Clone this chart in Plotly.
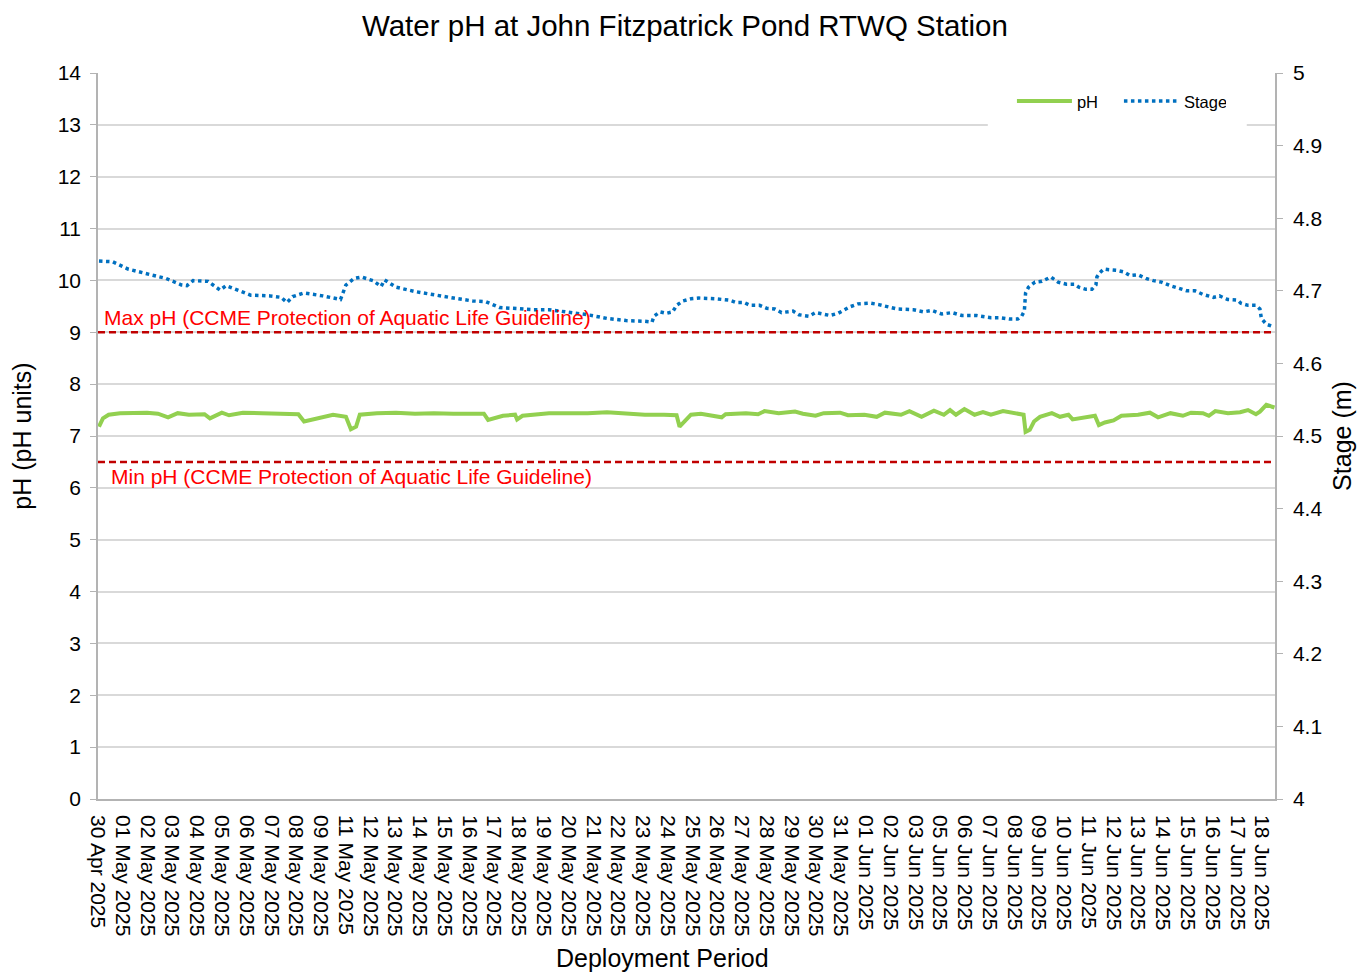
import plotly.graph_objects as go

# x positions are in "tick slot" units: slot 0 = first date label, slot 47 = last label
date_labels = [
    "30 Apr 2025", "01 May 2025", "02 May 2025", "03 May 2025", "04 May 2025",
    "05 May 2025", "06 May 2025", "07 May 2025", "08 May 2025", "09 May 2025",
    "11 May 2025", "12 May 2025", "13 May 2025", "14 May 2025", "15 May 2025",
    "16 May 2025", "17 May 2025", "18 May 2025", "19 May 2025", "20 May 2025",
    "21 May 2025", "22 May 2025", "23 May 2025", "24 May 2025", "25 May 2025",
    "26 May 2025", "27 May 2025", "28 May 2025", "29 May 2025", "30 May 2025",
    "31 May 2025", "01 Jun 2025", "02 Jun 2025", "03 Jun 2025", "05 Jun 2025",
    "06 Jun 2025", "07 Jun 2025", "08 Jun 2025", "09 Jun 2025", "10 Jun 2025",
    "11 Jun 2025", "12 Jun 2025", "13 Jun 2025", "14 Jun 2025", "15 Jun 2025",
    "16 Jun 2025", "17 Jun 2025", "18 Jun 2025",
]

ph_t = [
    0.04, 0.20, 0.43, 0.89, 1.98, 2.42, 2.83, 3.22, 3.67, 4.30, 4.52, 5.00, 5.29,
    5.85, 6.62, 7.39, 8.09, 8.32, 8.94, 9.49, 10.01, 10.21, 10.42, 10.57, 11.26,
    12.03, 12.80, 13.56, 14.35, 15.13, 15.58, 15.75, 16.35, 16.84, 16.92, 17.14,
    18.21, 18.99, 19.77, 20.55, 21.32, 22.08, 22.85, 23.36, 23.48, 23.70, 23.94,
    24.34, 24.76, 25.18, 25.34, 26.16, 26.65, 26.91, 27.48, 28.14, 28.46, 28.97,
    29.30, 29.96, 30.28, 30.94, 31.44, 31.77, 32.42, 32.76, 33.25, 33.75, 34.15,
    34.40, 34.64, 34.98, 35.39, 35.73, 36.05, 36.54, 37.37, 37.45, 37.62, 37.79,
    38.03, 38.51, 38.84, 39.18, 39.35, 39.85, 40.25, 40.41, 40.65, 41.00, 41.32,
    41.99, 42.47, 42.80, 43.30, 43.80, 44.13, 44.61, 44.85, 45.11, 45.62, 46.11,
    46.43, 46.75, 46.91, 47.17, 47.50,
]
ph_values = [
    7.18, 7.34, 7.41, 7.44, 7.45, 7.43, 7.36, 7.44, 7.41, 7.42, 7.34, 7.45, 7.40,
    7.45, 7.44, 7.43, 7.42, 7.28, 7.35, 7.41, 7.37, 7.13, 7.18, 7.41, 7.44,
    7.45, 7.43, 7.44, 7.43, 7.42, 7.43, 7.31, 7.39, 7.41, 7.32, 7.39,
    7.44, 7.44, 7.44, 7.46, 7.44, 7.41, 7.41, 7.40, 7.18, 7.28, 7.41,
    7.43, 7.39, 7.36, 7.42, 7.44, 7.42, 7.48, 7.44, 7.47, 7.43, 7.39,
    7.44, 7.45, 7.40, 7.41, 7.37, 7.45, 7.41, 7.48, 7.37, 7.49, 7.41,
    7.50, 7.41, 7.52, 7.41, 7.46, 7.41, 7.48, 7.41, 7.08, 7.12, 7.28,
    7.37, 7.44, 7.37, 7.41, 7.32, 7.36, 7.39, 7.21, 7.26, 7.30, 7.39,
    7.41, 7.45, 7.36, 7.44, 7.39, 7.45, 7.44, 7.39, 7.48, 7.44, 7.46,
    7.50, 7.42, 7.47, 7.60, 7.55,
]

stage_t = [
    0.04, 0.59, 1.21, 1.82, 2.14, 2.75, 3.37, 3.59, 3.84, 4.44, 4.93, 5.17, 5.69,
    6.16, 6.94, 7.39, 7.63, 7.86, 8.32, 9.08, 9.79, 10.01, 10.34, 10.64, 11.10,
    11.43, 11.57, 12.03, 12.80, 13.56, 14.35, 15.13, 15.66, 16.21, 16.98, 17.60,
    18.21, 18.99, 19.77, 20.55, 21.32, 22.08, 22.37, 22.45, 22.69, 22.95, 23.20,
    23.36, 23.62, 23.94, 24.26, 24.93, 25.51, 25.76, 26.08, 26.32, 26.71, 26.99,
    27.32, 27.60, 28.06, 28.30, 28.70, 28.97, 29.55, 29.88, 30.12, 30.36, 30.68,
    31.19, 31.52, 31.77, 32.26, 32.92, 33.33, 33.67, 34.07, 34.48, 34.88, 35.47,
    36.05, 36.37, 36.78, 37.13, 37.29, 37.40, 37.42, 37.45, 37.57, 37.83, 38.11,
    38.47, 38.76, 39.10, 39.43, 39.60, 39.89, 40.13, 40.29, 40.33, 40.45, 40.61,
    40.82, 41.16, 41.41, 41.66, 41.99, 42.31, 42.61, 42.94, 43.30, 43.63, 43.96,
    44.29, 44.61, 45.03, 45.28, 45.61, 46.02, 46.14, 46.43, 46.75, 46.91, 46.97,
    47.17, 47.41,
]
stage_m = [
    4.741, 4.740, 4.730, 4.724, 4.722, 4.717, 4.708, 4.707, 4.714, 4.713, 4.701, 4.707, 4.700,
    4.694, 4.693, 4.691, 4.684, 4.692, 4.697, 4.693, 4.688, 4.708, 4.717, 4.719, 4.714,
    4.706, 4.715, 4.705, 4.699, 4.694, 4.690, 4.686, 4.685, 4.677, 4.675, 4.674,
    4.674, 4.671, 4.667, 4.662, 4.659, 4.658, 4.657, 4.665, 4.671, 4.669, 4.671,
    4.680, 4.686, 4.689, 4.690, 4.689, 4.687, 4.684, 4.684, 4.680, 4.680, 4.676,
    4.675, 4.670, 4.672, 4.667, 4.665, 4.670, 4.666, 4.669, 4.674, 4.678, 4.682,
    4.683, 4.681, 4.679, 4.675, 4.674, 4.671, 4.673, 4.668, 4.670, 4.666, 4.666,
    4.663, 4.663, 4.661, 4.661, 4.665, 4.672, 4.684, 4.697, 4.705, 4.712, 4.713,
    4.719, 4.712, 4.709, 4.709, 4.705, 4.702, 4.702, 4.708, 4.719, 4.725, 4.730,
    4.729, 4.728, 4.726, 4.721, 4.722, 4.717, 4.714, 4.712, 4.707, 4.703, 4.700,
    4.700, 4.695, 4.691, 4.693, 4.688, 4.687, 4.683, 4.680, 4.680, 4.675, 4.662,
    4.654, 4.651,
]

max_ph = 9.0
min_ph = 6.5
max_label = "Max pH (CCME Protection of Aquatic Life Guideline)"
min_label = "Min pH (CCME Protection of Aquatic Life Guideline)"

FONT = "Arial, Liberation Sans, sans-serif"
GRID = "#D9D9D9"
AXIS = "#B3B3B3"

fig = go.Figure()
fig.add_trace(go.Scatter(
    x=ph_t, y=ph_values, name="pH", mode="lines",
    line=dict(color="#92D050", width=4),
))
fig.add_trace(go.Scatter(
    x=stage_t, y=stage_m, name="Stage", mode="lines", yaxis="y2",
    line=dict(color="#0070C0", width=3.5, dash="3.5px,3.5px"),
))

# guideline lines
for val in (max_ph, min_ph):
    fig.add_shape(type="line", xref="paper", x0=0, x1=1, yref="y", y0=val, y1=val,
                  line=dict(color="#C00000", width=2.5, dash="7px,4px"))

fig.add_annotation(text=max_label, xref="paper", x=0.0035, xanchor="left",
                   yref="y", y=9.28, yanchor="middle", showarrow=False,
                   font=dict(color="#FF0000", size=21, family=FONT))
fig.add_annotation(text=min_label, xref="paper", x=0.0095, xanchor="left",
                   yref="y", y=6.21, yanchor="middle", showarrow=False,
                   font=dict(color="#FF0000", size=21, family=FONT))

# x axis title sits a little left of the plot centre in the original
fig.add_annotation(text="Deployment Period", xref="paper", x=0.4796, xanchor="center",
                   yref="paper", y=-0.219, yanchor="middle", showarrow=False,
                   font=dict(size=25, family=FONT))

# white patch behind legend hides the gridline there
fig.add_shape(type="rect", xref="paper", x0=0.756, x1=0.976, yref="y", y0=12.9, y1=13.1,
              fillcolor="white", line=dict(width=0), layer="above")

# page body has an 8px margin, so the figure is 8px smaller than the window
fig.update_layout(
    width=1361, height=965,
    margin=dict(l=90, r=94, t=65, b=174),
    paper_bgcolor="white", plot_bgcolor="white",
    font=dict(family=FONT, color="#000000"),
    title=dict(text="Water pH at John Fitzpatrick Pond RTWQ Station",
               x=0.4974, xanchor="center", y=0.982, yanchor="middle",
               font=dict(size=29.5)),
    showlegend=True,
    legend=dict(orientation="h", x=0.7765, xanchor="left", y=0.985, yanchor="top",
                bgcolor="rgba(0,0,0,0)", font=dict(size=16.5), itemwidth=55,
                entrywidth=37),
    xaxis=dict(
        range=[0, 47.52], tickmode="array", automargin=False,
        tickvals=list(range(len(date_labels))), ticktext=date_labels,
        tickangle=90, tickfont=dict(size=21), showgrid=False, zeroline=False,
        showline=True, linecolor=AXIS, linewidth=1.5, ticks="", ticklabelstandoff=10,
    ),
    yaxis=dict(
        range=[0, 14], dtick=1, tickfont=dict(size=21), showgrid=True, automargin=False,
        gridcolor=GRID, gridwidth=1.5, zeroline=False, showline=True, linecolor=AXIS,
        linewidth=1.5, ticks="outside", ticklen=6, tickcolor=AXIS, ticklabelstandoff=5,
        title=dict(text="pH (pH units)", font=dict(size=25), standoff=26),
    ),
    yaxis2=dict(
        range=[4, 5], dtick=0.1, overlaying="y", side="right", automargin=False,
        tickfont=dict(size=21), showgrid=False, zeroline=False, showline=True,
        linecolor=AXIS, linewidth=1.5, ticks="outside", ticklen=6, tickcolor=AXIS,
        ticklabelstandoff=6,
        title=dict(text="Stage (m)", font=dict(size=25), standoff=12),
    ),
)

fig.write_html("out.html")
